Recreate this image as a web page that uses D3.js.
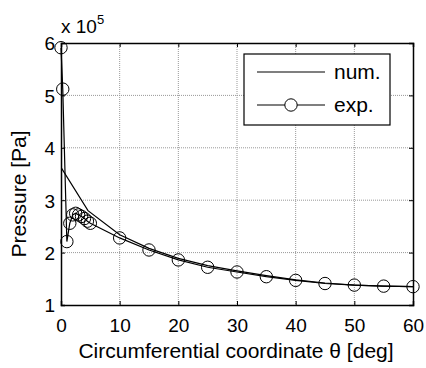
<!DOCTYPE html>
<html>
<head>
<meta charset="utf-8">
<script src="https://cdn.jsdelivr.net/npm/d3@7"></script>
<style>
  body { margin: 0; background: #fff; }
  svg { display: block; font-family: "Liberation Sans", Arial, sans-serif; }
</style>
</head>
<body>
<script>
// circumferential coordinate [deg] vs pressure [x 1e5 Pa]
var numTheta = [0, 0.05, 4.6, 10, 15, 20, 25, 30, 35, 40, 45, 50, 55, 60];
var numP     = [6.0, 3.62, 2.8, 2.34, 2.08, 1.89, 1.75, 1.65, 1.56, 1.48, 1.42, 1.38, 1.36, 1.35];

var expTheta = [0, 0.3, 1, 1.5, 2, 2.5, 3, 3.5, 4, 4.5, 5, 10, 15, 20, 25, 30, 35, 40, 45, 50, 55, 60];
var expP     = [5.91, 5.12, 2.21, 2.56, 2.72, 2.75, 2.72, 2.69, 2.65, 2.6, 2.56, 2.28, 2.05, 1.86, 1.72, 1.63, 1.54, 1.47, 1.41, 1.38, 1.36, 1.35];

var xTicks = [0, 10, 20, 30, 40, 50, 60];
var yTicks = [1, 2, 3, 4, 5, 6];

var width = 426, height = 368;
var margin = { left: 61, right: 13, top: 43, bottom: 63 };
var iw = width - margin.left - margin.right,
    ih = height - margin.top - margin.bottom;

var x = d3.scaleLinear().domain([0, 60]).range([0, iw]);
var y = d3.scaleLinear().domain([1, 6]).range([ih, 0]);

var svg = d3.select("body").append("svg")
  .attr("width", width)
  .attr("height", height);

var g = svg.append("g")
  .attr("transform", "translate(" + margin.left + "," + margin.top + ")");

g.append("clipPath").attr("id", "clip")
  .append("rect").attr("width", iw).attr("height", ih);

// grid
g.append("g").selectAll("line")
  .data(xTicks.slice(1, -1)).enter().append("line")
  .attr("x1", function (d) { return x(d); })
  .attr("x2", function (d) { return x(d); })
  .attr("y1", 0).attr("y2", ih)
  .attr("stroke", "#999").attr("stroke-dasharray", "1,1");

g.append("g").selectAll("line")
  .data(yTicks.slice(1, -1)).enter().append("line")
  .attr("y1", function (d) { return y(d); })
  .attr("y2", function (d) { return y(d); })
  .attr("x1", 0).attr("x2", iw)
  .attr("stroke", "#999").attr("stroke-dasharray", "1,1");

// axes (ticks inward, box)
var fs = "19px", fsL = "21px";
var xAxis = g.append("g").attr("transform", "translate(0," + ih + ")")
  .call(d3.axisBottom(x).tickValues(xTicks).tickSize(-4).tickPadding(14));
var xTop = g.append("g")
  .call(d3.axisTop(x).tickValues(xTicks).tickSize(-4).tickFormat(""));
var yAxis = g.append("g")
  .call(d3.axisLeft(y).tickValues(yTicks).tickSize(-4).tickPadding(6).tickFormat(d3.format("d")));
var yRight = g.append("g").attr("transform", "translate(" + iw + ",0)")
  .call(d3.axisRight(y).tickValues(yTicks).tickSize(-4).tickFormat(""));

[xAxis, xTop, yAxis, yRight].forEach(function (a) {
  a.select(".domain").attr("stroke", "#000").attr("stroke-width", 1.5);
  a.selectAll(".tick line").attr("stroke", "#000");
  a.selectAll("text").attr("font-size", fs).attr("fill", "#000")
    .attr("font-family", '"Liberation Sans", Arial, sans-serif');
});
yAxis.selectAll("text").attr("dy", "0.36em");

// series
var line = d3.line()
  .x(function (d) { return x(d[0]); })
  .y(function (d) { return y(d[1]); });

var numData = d3.zip(numTheta, numP);
var expData = d3.zip(expTheta, expP);

g.append("path").datum(numData)
  .attr("clip-path", "url(#clip)")
  .attr("d", line).attr("fill", "none").attr("stroke", "#000").attr("stroke-width", 1.2);

g.append("path").datum(expData)
  .attr("d", line).attr("fill", "none").attr("stroke", "#000").attr("stroke-width", 1.2);

g.append("g").selectAll("circle")
  .data(expData).enter().append("circle")
  .attr("cx", function (d) { return x(d[0]); })
  .attr("cy", function (d) { return y(d[1]); })
  .attr("r", 6.2)
  .attr("fill", "none").attr("stroke", "#000").attr("stroke-width", 1);

// legend
var lg = svg.append("g");
lg.append("rect")
  .attr("x", 244).attr("y", 54).attr("width", 146).attr("height", 71)
  .attr("fill", "#fff").attr("stroke", "#000").attr("stroke-width", 1.2);
lg.append("line").attr("x1", 257).attr("x2", 325).attr("y1", 72).attr("y2", 72)
  .attr("stroke", "#000").attr("stroke-width", 1.2);
lg.append("line").attr("x1", 257).attr("x2", 325).attr("y1", 105).attr("y2", 105)
  .attr("stroke", "#000").attr("stroke-width", 1.2);
lg.append("circle").attr("cx", 291).attr("cy", 105).attr("r", 6.2)
  .attr("fill", "#fff").attr("stroke", "#000");
lg.append("text").attr("x", 334).attr("y", 79).attr("font-size", fsL).text("num.");
lg.append("text").attr("x", 334).attr("y", 112).attr("font-size", fsL).text("exp.");

// exponent
var ex = svg.append("text").attr("x", 61).attr("y", 33).attr("font-size", fs);
ex.append("tspan").text("x 10");
ex.append("tspan").attr("font-size", "13px").attr("dy", "-9").text("5");

// axis labels
svg.append("text")
  .attr("x", 236).attr("y", 358)
  .attr("text-anchor", "middle").attr("font-size", fsL)
  .text("Circumferential coordinate θ [deg]");

svg.append("text")
  .attr("transform", "translate(26,194) rotate(-90)")
  .attr("text-anchor", "middle").attr("font-size", fsL)
  .text("Pressure [Pa]");
</script>
</body>
</html>
